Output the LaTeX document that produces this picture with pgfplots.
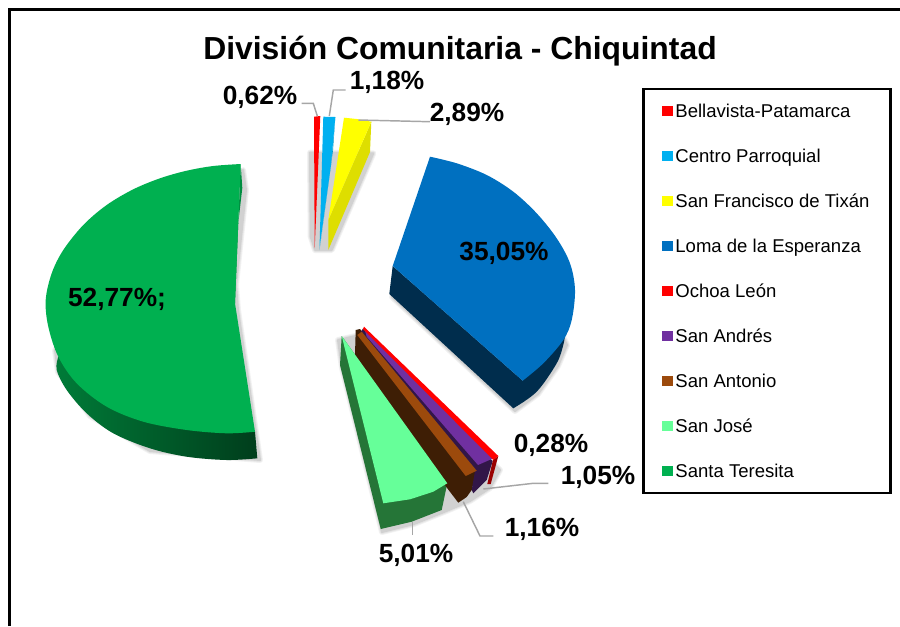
\documentclass[border=0pt]{standalone}
\usepackage{pgfplots}
\pgfplotsset{compat=1.18}
\usepackage{fontspec}
\setmainfont{Liberation Sans}
\definecolor{cRed}{HTML}{FF0000}
\definecolor{cCyan}{HTML}{00B0F0}
\definecolor{cYel}{HTML}{FFFF00}
\definecolor{cBlue}{HTML}{0070C0}
\definecolor{cPur}{HTML}{7030A0}
\definecolor{cBro}{HTML}{9C4A0C}
\definecolor{cMint}{HTML}{66FF99}
\definecolor{cGreen}{HTML}{00B050}
\definecolor{leader}{HTML}{A6A6A6}
\newcommand{\soft}[1]{%
  \addplot[forget plot,draw=black!5,fill=black!5,line width=4.5pt,line join=round] coordinates {#1} -- cycle;
  \addplot[forget plot,draw=black!10,fill=black!10,line width=3pt,line join=round] coordinates {#1} -- cycle;
  \addplot[forget plot,draw=black!18,fill=black!18,line width=1.5pt,line join=round] coordinates {#1} -- cycle;
}
\newcommand{\poly}[2]{\addplot[forget plot,draw=none,fill=#1] coordinates {#2} -- cycle;}
\newcommand{\lead}[1]{\addplot[forget plot,draw=leader,line width=1.1pt] coordinates {#1};}
\begin{document}
\begin{tikzpicture}
\path[use as bounding box] (0,0) rectangle (675pt,469.5pt);
\begin{axis}[
  scale only axis,width=675pt,height=469.5pt,
  xmin=0,xmax=900,ymin=0,ymax=626,y dir=reverse,
  axis lines=none,
  legend style={at={(axis cs:642.3,87.7)},anchor=north west,draw=black,line width=1.9pt,
    font=\fontsize{13.9}{16}\selectfont,
    row sep=20.75pt,inner xsep=14pt,inner ysep=10pt,
    nodes={inner xsep=1.7pt,inner ysep=0pt,text height=11.2pt,text depth=1.8pt,line width=0pt}},
  legend cell align=left,
  legend image code/.code={\fill[#1,draw=none] (-0.7pt,-4pt) rectangle (7.5pt,4pt);},
]
% frame
\addplot[forget plot,draw=black,line width=2.2pt] coordinates {(9.2,626) (9.2,9.5) (900,9.5)};
% shadows
\soft{(310,152.7) (373.3,153.3) (331.7,250) (315,250) (310.7,236.7)}
\soft{(243,170) (246,190) (236,285) (238,310) (260,460) (150,451) (90,416) (58,372) (55,350)}
\soft{(392,297) (515,411) (538,394) (558,366) (567,345) (560,330) (400,280)}
\soft{(342,368) (382,532) (414,524) (444,512) (470,501) (490,488) (500,470) (360,335) (338,340)}
% Santa Teresita
\poly{cGreen!80!black}{(240.7,164) (242.3,188) (231.7,280) (235,303.3)}
\addplot[forget plot,draw=none,left color=cGreen!70!black,middle color=cGreen!40!black,right color=cGreen!35!black,smooth,tension=0.55] coordinates {(58.3,356.7) (56.7,370) (66.7,390) (86.7,413.3) (113.3,433.3) (150,448.3) (186.7,456.7) (226.7,460) (257.3,458.3)} -- (axis cs:255,431.7) -- cycle;
\addplot[forget plot,draw=none,fill=cGreen,smooth,tension=0.55] coordinates {(240.7,164) (213.3,166) (186.7,170.7) (160,178.3) (133.3,189.3) (106.7,205) (83.3,225) (63.3,250) (51.7,273.3) (45.7,300) (48.3,326.7) (58.3,356.7) (76.7,383.3) (106.7,406.7) (143.3,421.7) (186.7,430) (226.7,433.3) (255,431.7)} -- (axis cs:235,303.3) -- cycle;
% Loma de la Esperanza
\addplot[forget plot,draw=none,fill=cBlue!40!black,smooth,tension=0.55] coordinates {(513.3,408.3) (536.7,391.7) (556.7,363.3) (563.3,345) (565,335)} -- (axis cs:522.7,380.7) -- (axis cs:392.7,266) -- (axis cs:389.3,294) -- cycle;
\addplot[forget plot,draw=none,fill=cBlue,smooth,tension=0.55] coordinates {(430,156.7) (456.7,163.3) (486.7,175) (513.3,191.7) (536.7,213.3) (556.7,238.3) (570,263.3) (575,290) (571.7,320) (563.3,340) (543.3,363.3) (522.7,380.7)} -- (axis cs:392.7,266) -- cycle;
% San José side
\poly{cMint!40!black!90!green}{(341.7,336) (340,365) (380.7,529) (411.7,521.7) (441.7,510) (447.3,483.3)}
% San Antonio side
\poly{cBro!40!black}{(355.7,330) (360,329) (476.7,470.7) (471.7,490) (466.7,497) (458.3,502.7) (447.3,488.3) (355,355)}
% San Andrés side
\poly{cPur!45!black}{(360,333) (363,328.5) (492.7,461) (486.7,480) (473.3,493.3) (471.7,490) (475,471)}
% San Antonio top
\poly{cBro}{(361.7,331.7) (476.7,470.7) (465.7,476) (357.3,335)}
% San José top
\poly{cMint}{(341.7,336) (447.3,483.3) (433.3,491.7) (410,499.3) (383.3,503.3)}
% San Andrés top
\poly{cPur}{(365,330.5) (493.3,458.3) (478,465) (366.7,336.7)}
% Ochoa León
\poly{cRed!60!black}{(498.3,456) (490.7,484) (487.3,484) (493,460)}
\poly{cRed}{(364,326.7) (498.3,456) (493.3,460) (363,329)}
% Bellavista-Patamarca
\poly{cRed}{(314,116.7) (320.3,116) (314.7,248.3)}
% Centro Parroquial
\poly{cCyan!85!black}{(335.3,117) (333,150) (319.5,250) (331,165)}
\poly{cCyan}{(323.3,116.7) (335.3,117) (331,165) (319.5,248)}
% San Francisco de Tixán
\poly{cYel!87!black}{(371.3,121.7) (370,152) (328.3,250) (328.3,220)}
\poly{cYel}{(344,117.7) (356.7,119) (371.3,121.7) (328.3,220)}
% leader lines
\lead{(301.7,103.3) (313.3,103.3) (317.3,116)}
\lead{(345.7,90) (333.3,90) (329.3,116)}
\lead{(430,121.7) (358.3,120)}
\lead{(548.3,483.3) (533.3,483.3) (483.3,489)}
\lead{(493.3,536) (480,536) (463.3,501.7)}
\lead{(412.7,535) (412.7,521.7)}
% legend
\addlegendimage{fill=cRed}\addlegendentry{Bellavista-Patamarca}
\addlegendimage{fill=cCyan}\addlegendentry{Centro Parroquial}
\addlegendimage{fill=cYel}\addlegendentry{San Francisco de Tixán}
\addlegendimage{fill=cBlue}\addlegendentry{Loma de la Esperanza}
\addlegendimage{fill=cRed}\addlegendentry{Ochoa León}
\addlegendimage{fill=cPur}\addlegendentry{San Andrés}
\addlegendimage{fill=cBro}\addlegendentry{San Antonio}
\addlegendimage{fill=cMint}\addlegendentry{San José}
\addlegendimage{fill=cGreen}\addlegendentry{Santa Teresita}
% text
\node[font=\fontsize{23.9}{26}\selectfont\bfseries] at (axis cs:460,51.5) {División Comunitaria - Chiquintad};
\tikzset{lab/.style={font=\fontsize{19.7}{22}\selectfont\bfseries,inner sep=0pt}}
\node[lab] at (axis cs:260,97.5) {0,62\%};
\node[lab] at (axis cs:387,82.5) {1,18\%};
\node[lab] at (axis cs:467,114.5) {2,89\%};
\node[lab] at (axis cs:504,253) {35,05\%};
\node[lab] at (axis cs:117,299.5) {52,77\%;};
\node[lab] at (axis cs:551,445.5) {0,28\%};
\node[lab] at (axis cs:598,477.5) {1,05\%};
\node[lab] at (axis cs:542,529.5) {1,16\%};
\node[lab] at (axis cs:416,555.5) {5,01\%};
\end{axis}
\end{tikzpicture}
\end{document}
